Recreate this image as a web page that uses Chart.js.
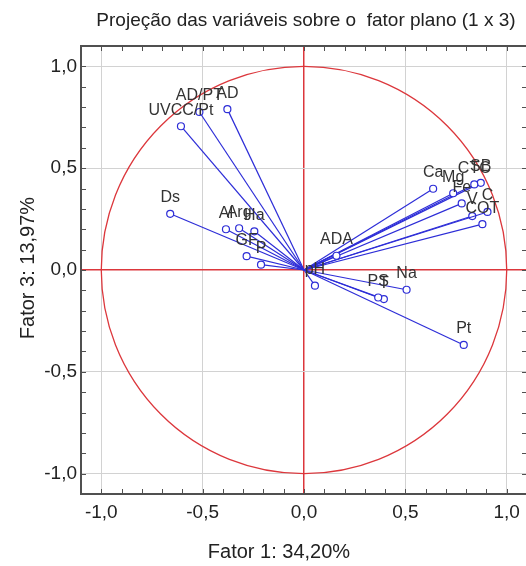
<!DOCTYPE html>
<html><head><meta charset="utf-8">
<script src="https://cdn.jsdelivr.net/npm/chart.js@4.4.0/dist/chart.umd.min.js"></script>
<style>
html,body{margin:0;padding:0;overflow:hidden;background:#fff;width:526px;height:566px}
#wrap{position:absolute;left:0;top:0;width:560px;height:566px}
</style>
</head><body><div id="wrap"><canvas id="c" width="560" height="566"></canvas></div>
<script>
const variables = ["AD","AD/PT","UVCC/Pt","Ds","Al","Arg","Ha","GF","P","pH","ADA","PS","T","Na","Pt","Ca","Mg","Fe","CTC","SB","C","V","COT"];
const factor1 = [-0.378,-0.516,-0.607,-0.660,-0.385,-0.320,-0.245,-0.283,-0.212,0.054,0.160,0.366,0.394,0.506,0.788,0.637,0.736,0.778,0.840,0.872,0.905,0.830,0.880];
const factor3 = [0.790,0.776,0.706,0.276,0.200,0.205,0.190,0.068,0.026,-0.077,0.070,-0.135,-0.143,-0.097,-0.368,0.399,0.377,0.327,0.420,0.428,0.285,0.265,0.225];
const axisMin = -1.1, axisMax = 1.1, tickStep = 0.1;
const titleText = "Projeção das variáveis sobre o  fator plano (1 x 3)";
const xTitle = "Fator 1: 34,20%";
const yTitle = "Fator 3: 13,97%";

const BLUE = "rgb(45,45,215)";
const RED = "rgb(220,55,60)";
const FONT = "'Liberation Sans', Arial, sans-serif";

function fmt(v){
  const r = Math.round(v*10);
  if (r % 5 !== 0) return "";
  const a = Math.abs(r/10).toFixed(1).replace(".", ",");
  return (r < 0 ? "-" : "") + a;
}
function gridColor(ctx){
  const r = Math.round(ctx.tick.value*10);
  if (r === 0) return RED;
  if (r % 5 === 0) return "#d2d2d2";
  return "rgba(0,0,0,0)";
}
function gridWidth(ctx){
  return Math.round(ctx.tick.value*10) === 0 ? 1.5 : 1;
}

const datasets = variables.map((name,i)=>({
  label: name,
  data: [{x:0,y:0},{x:factor1[i],y:factor3[i]}],
  showLine: true,
  borderColor: BLUE,
  borderWidth: 1.2,
  pointRadius: [0,3.5],
  pointHoverRadius: [0,3.5],
  pointBorderColor: BLUE,
  pointBackgroundColor: "#fff",
  pointBorderWidth: 1.2
}));

const decor = {
  id: "decor",
  beforeDatasetsDraw(chart){
    const {ctx, chartArea:a, scales:{x,y}} = chart;
    const cx = x.getPixelForValue(0), cy = y.getPixelForValue(0);
    const rx = x.getPixelForValue(1)-cx, ry = cy-y.getPixelForValue(1);
    ctx.save();
    ctx.beginPath(); ctx.rect(a.left,a.top,a.right-a.left,a.bottom-a.top); ctx.clip();
    ctx.beginPath(); ctx.ellipse(cx,cy,rx,ry,0,0,Math.PI*2);
    ctx.strokeStyle = RED; ctx.lineWidth = 1.3; ctx.stroke();
    ctx.restore();
  },
  afterDatasetsDraw(chart){
    const {ctx} = chart;
    ctx.save();
    ctx.font = "16px " + FONT;
    ctx.fillStyle = "#333";
    ctx.textAlign = "center";
    ctx.textBaseline = "middle";
    chart.data.datasets.forEach((ds,i)=>{
      const pt = chart.getDatasetMeta(i).data[1];
      ctx.fillText(ds.label, pt.x, pt.y-16);
    });
    ctx.restore();
  },
  afterDraw(chart){
    const {ctx, chartArea:a, scales:{x,y}} = chart;
    ctx.save();
    ctx.strokeStyle = "#505050";
    ctx.lineWidth = 1;
    ctx.beginPath();
    x.ticks.forEach(t=>{
      const r = Math.round(t.value*10);
      if (Math.abs(r) >= 11) return;
      const px = Math.round(x.getPixelForValue(t.value))+0.5;
      ctx.moveTo(px,a.bottom); ctx.lineTo(px,a.bottom-5);
      ctx.moveTo(px,a.top); ctx.lineTo(px,a.top+5);
    });
    y.ticks.forEach(t=>{
      const r = Math.round(t.value*10);
      if (Math.abs(r) >= 11) return;
      const py = Math.round(y.getPixelForValue(t.value))+0.5;
      ctx.moveTo(a.left,py); ctx.lineTo(a.left+5,py);
      ctx.moveTo(a.right,py); ctx.lineTo(a.right-5,py);
    });
    ctx.stroke();
    ctx.lineWidth = 2;
    ctx.strokeRect(a.left,a.top,a.right-a.left,a.bottom-a.top);
    ctx.fillStyle = "#222";
    ctx.textAlign = "center";
    ctx.textBaseline = "middle";
    ctx.font = "19px " + FONT;
    ctx.fillText(titleText, 306, 21);
    ctx.font = "20px " + FONT;
    ctx.fillText(xTitle, 279, 552);
    ctx.translate(28, 268);
    ctx.rotate(-Math.PI/2);
    ctx.fillText(yTitle, 0, 0);
    ctx.restore();
  }
};

const tickFont = {family: FONT, size: 19};
new Chart(document.getElementById("c"), {
  type: "scatter",
  data: {datasets},
  options: {
    responsive: false,
    animation: false,
    devicePixelRatio: 1,
    layout: {padding: {top: 46, right: 33, left: 0, bottom: 0}},
    plugins: {legend: {display: false}, tooltip: {enabled: false}, title: {display: false}},
    scales: {
      x: {
        type: "linear", min: axisMin, max: axisMax,
        afterFit(s){ s.height = 72; },
        border: {display: false},
        grid: {color: gridColor, lineWidth: gridWidth, drawTicks: false},
        ticks: {stepSize: tickStep, autoSkip: false, maxRotation: 0, callback: fmt, font: tickFont, color: "#222", padding: 7}
      },
      y: {
        type: "linear", min: axisMin, max: axisMax,
        afterFit(s){ s.width = 81; },
        border: {display: false},
        grid: {color: gridColor, lineWidth: gridWidth, drawTicks: false},
        ticks: {stepSize: tickStep, autoSkip: false, callback: fmt, font: tickFont, color: "#222", padding: 4}
      }
    }
  },
  plugins: [decor]
});
</script>
</body></html>
